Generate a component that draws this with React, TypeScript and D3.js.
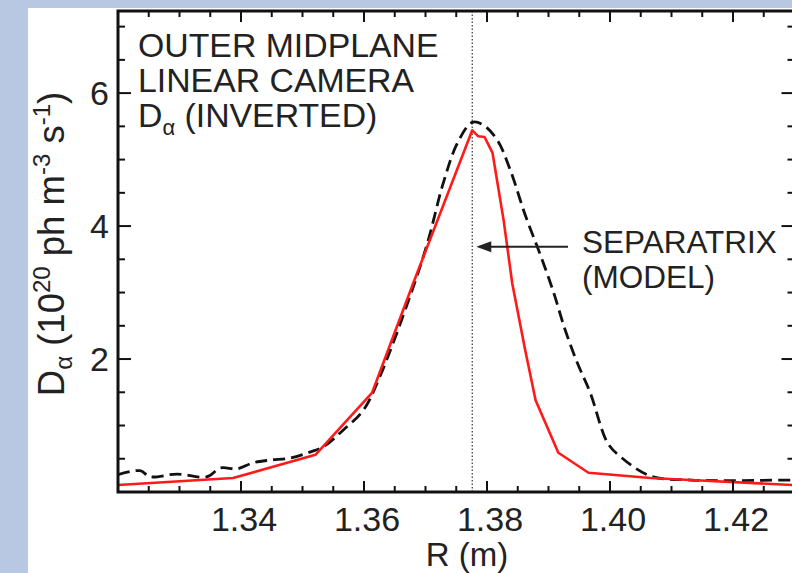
import * as d3 from "d3";

// R (m) and D-alpha values
const modelR = [1.32, 1.3387, 1.3521, 1.3613, 1.368, 1.3776, 1.3786, 1.3796, 1.3809, 1.3827, 1.3841, 1.3862, 1.3879, 1.3916, 1.3965, 1.4066, 1.4131, 1.4297, 1.433];
const modelD = [0.105, 0.21, 0.56, 1.49, 3.14, 5.44, 5.35, 5.34, 5.1, 4.09, 3.14, 2.14, 1.38, 0.59, 0.29, 0.21, 0.18, 0.105, 0.1];

const measR = [1.32, 1.3236, 1.3252, 1.3296, 1.3345, 1.3366, 1.3394, 1.342, 1.3447, 1.348, 1.3512, 1.3534, 1.3566, 1.3599, 1.3626, 1.3675, 1.3703, 1.3729, 1.3752, 1.3776, 1.3794, 1.3817, 1.3838, 1.3862, 1.3887, 1.3908, 1.3927, 1.3947, 1.3968, 1.3996, 1.4017, 1.4066, 1.4131, 1.4297, 1.433];
const measD = [0.26, 0.32, 0.23, 0.27, 0.23, 0.36, 0.35, 0.44, 0.48, 0.51, 0.6, 0.68, 0.93, 1.23, 1.74, 2.95, 3.74, 4.65, 5.25, 5.56, 5.52, 5.29, 4.84, 4.17, 3.56, 3.01, 2.44, 1.94, 1.49, 0.74, 0.53, 0.24, 0.18, 0.18, 0.18];

const separatrixR = 1.3776;

const xTickValues = [1.34, 1.36, 1.38, 1.4, 1.42];
const xTickLabels = ["1.34", "1.36", "1.38", "1.40", "1.42"];
const yTickValues = [2, 4, 6];
const yTickLabels = ["2", "4", "6"];

const W = 792;
const H = 573;
const left = 118;
const right = 794.5;
const top = 11;
const bottom = 492;

const font = "'Liberation Sans', Arial, Helvetica, sans-serif";

const App = () => {
  const x = d3.scaleLinear().domain([1.32, 1.43]).range([left, right]);
  const y = d3.scaleLinear().domain([0, 7.235]).range([bottom, top]);

  const minorX = d3.range(1.32, 1.4301, 0.005);
  const minorY = d3.range(0, 7.01, 0.5);

  const modelLine = d3
    .line<number>()
    .x((d, i) => x(modelR[i]))
    .y((d) => y(d));

  const measLine = d3
    .line<number>()
    .x((d, i) => x(measR[i]))
    .y((d) => y(d))
    .curve(d3.curveCatmullRom);

  const isMajorX = (v: number) => xTickValues.some((t) => Math.abs(t - v) < 1e-6);
  const isMajorY = (v: number) => yTickValues.some((t) => Math.abs(t - v) < 1e-6);

  const sepX = x(separatrixR);
  const arrowY = y(3.69);

  return (
    <svg
      width={W}
      height={H}
      style={{ position: "absolute", left: 0, top: 0, display: "block" }}
      fontFamily={font}
    >
      <defs>
        <clipPath id="plot">
          <rect x={left} y={top} width={right - left} height={bottom - top} />
        </clipPath>
      </defs>
      <rect width={W} height={H} fill="#b9c8e2" />
      <rect x={28} y={8} width={W - 28} height={H - 8} fill="#ffffff" />

      {/* separatrix marker */}
      <line x1={sepX} x2={sepX} y1={top} y2={bottom} stroke="#333" strokeWidth={1.2} strokeDasharray="1.5,2" />

      <g clipPath="url(#plot)">
        <path d={measLine(measD) || ""} fill="none" stroke="#111" strokeWidth={2.8} strokeDasharray="12,6" />
        <path d={modelLine(modelD) || ""} fill="none" stroke="#ff1a1a" strokeWidth={2.6} strokeLinejoin="round" />
      </g>

      {/* ticks, inward on all four sides */}
      <g stroke="#111" strokeWidth={2}>
        {minorX.map((v) => {
          const len = isMajorX(v) ? 11 : 6;
          return (
            <g key={"x" + v}>
              <line x1={x(v)} x2={x(v)} y1={bottom} y2={bottom - len} />
              <line x1={x(v)} x2={x(v)} y1={top} y2={top + len} />
            </g>
          );
        })}
        {minorY.map((v) => {
          const len = isMajorY(v) ? 13 : 7;
          return (
            <g key={"y" + v}>
              <line x1={left} x2={left + len} y1={y(v)} y2={y(v)} />
              <line x1={right} x2={right - len} y1={y(v)} y2={y(v)} />
            </g>
          );
        })}
      </g>
      <rect x={left} y={top} width={right - left} height={bottom - top} fill="none" stroke="#111" strokeWidth={3} />

      {/* tick labels */}
      <g fontSize={34} fill="#222">
        {xTickValues.map((v, i) => (
          <text key={v} x={x(v) + 3} y={531} textAnchor="middle">
            {xTickLabels[i]}
          </text>
        ))}
        {yTickValues.map((v, i) => (
          <text key={v} x={109} y={y(v) + 12} textAnchor="end">
            {yTickLabels[i]}
          </text>
        ))}
      </g>

      <text x={467} y={566} fontSize={33} textAnchor="middle" fill="#222">
        R (m)
      </text>

      <g transform={`translate(64,244) rotate(-90)`}>
        <text x={0} y={0} fontSize={36.5} textAnchor="middle" fill="#222">
          D<tspan fontSize={24} dy={8}>α</tspan>
          <tspan dy={-8}> (10</tspan>
          <tspan fontSize={24} dy={-14}>20</tspan>
          <tspan dy={14}> ph m</tspan>
          <tspan fontSize={24} dy={-14}>-3</tspan>
          <tspan dy={14}> s</tspan>
          <tspan fontSize={24} dy={-14}>-1</tspan>
          <tspan dy={14}>)</tspan>
        </text>
      </g>

      <g fontSize={33.8} fill="#222">
        <text x={138} y={57}>OUTER MIDPLANE</text>
        <text x={138} y={92}>LINEAR CAMERA</text>
        <text x={138} y={127}>
          D<tspan fontSize={22} dy={8}>α</tspan>
          <tspan dy={-8}> (INVERTED)</tspan>
        </text>
      </g>

      {/* separatrix annotation */}
      <line x1={568} x2={sepX + 14} y1={arrowY} y2={arrowY} stroke="#222" strokeWidth={2} />
      <path
        d={`M${sepX + 4},${arrowY} L${sepX + 19},${arrowY - 5.5} L${sepX + 19},${arrowY + 5.5} Z`}
        fill="#222"
      />
      <g fontSize={31.5} fill="#222">
        <text x={582} y={253}>SEPARATRIX</text>
        <text x={582} y={288}>(MODEL)</text>
      </g>
    </svg>
  );
};

export default App;
